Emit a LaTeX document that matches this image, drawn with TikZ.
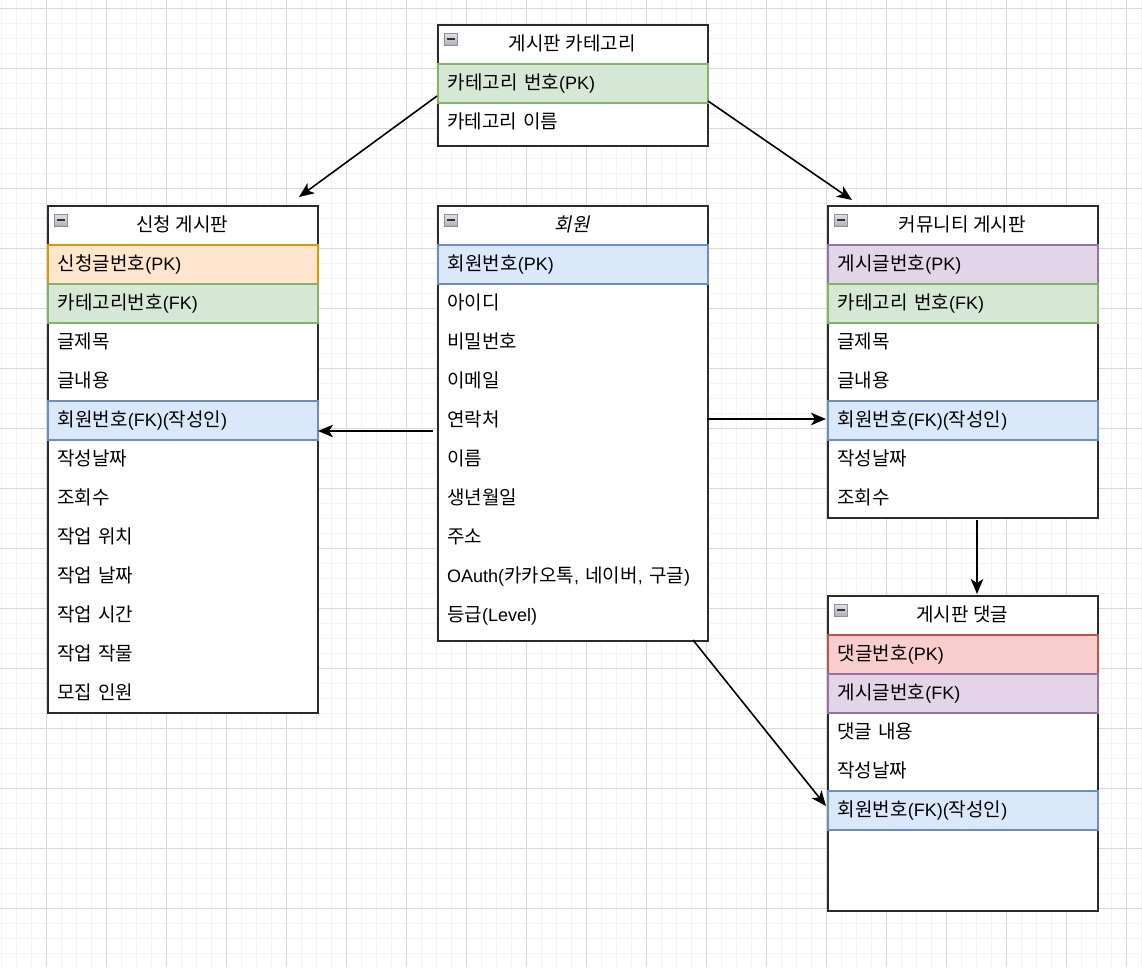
\documentclass[tikz,border=0pt]{standalone}
\usepackage{fontspec}
\setmainfont{Noto Sans CJK KR}
\newfontfamily\latf{Liberation Sans}
\newfontfamily\krit[FakeSlant=0.2]{Noto Sans CJK KR}
\newcommand\lat[1]{{\latf\fontsize{18}{21}\selectfont #1}}
\usetikzlibrary{arrows.meta}
\definecolor{grnf}{HTML}{D5E8D4}\definecolor{grnd}{HTML}{82B366}
\definecolor{orgf}{HTML}{FFE6CC}\definecolor{orgd}{HTML}{D79B00}
\definecolor{bluf}{HTML}{DAE8FC}\definecolor{blud}{HTML}{6C8EBF}
\definecolor{purf}{HTML}{E1D5E7}\definecolor{purd}{HTML}{9673A6}
\definecolor{redf}{HTML}{F8CECC}\definecolor{redd}{HTML}{B85450}
\definecolor{boxc}{HTML}{2B2B2B}
\definecolor{gmaj}{HTML}{D9D9D9}\definecolor{gmin}{HTML}{F3F3F3}
\definecolor{icf}{HTML}{C4C6CC}\definecolor{icd}{HTML}{8A8F9C}
\tikzset{
  tbox/.style={draw=boxc, line width=1.8pt, fill=white, anchor=north west, minimum width=270pt, inner sep=0pt},
  hdr/.style={anchor=north west, minimum width=270pt, minimum height=39pt, inner sep=0pt, text height=16pt, text depth=3pt},
  row/.style={anchor=north west, minimum width=270pt, minimum height=39pt, inner xsep=10pt, inner ysep=0pt, text width=250pt, align=left, text height=16pt, text depth=3pt},
  grn/.style={row, fill=grnf, draw=grnd, line width=1.8pt},
  org/.style={row, fill=orgf, draw=orgd, line width=1.8pt},
  blu/.style={row, fill=bluf, draw=blud, line width=1.8pt},
  pur/.style={row, fill=purf, draw=purd, line width=1.8pt},
  rdd/.style={row, fill=redf, draw=redd, line width=1.8pt},
  arr/.style={draw=black, line width=1.6pt, -{Stealth[length=15pt,width=12.5pt,inset=4pt]}},
  gminor/.style={draw=gmin, line width=1pt},
  gmajor/.style={draw=gmaj, line width=1pt}
}
\newcommand\tblicon[2]{%
  \shade[top color=icf!50, bottom color=icf!90!black, draw=icd, line width=1pt] (#1+7,#2+9) rectangle (#1+20,#2+21);
  \draw[black!80, line width=1.6pt] (#1+9.5,#2+15) -- (#1+17.5,#2+15);}
\begin{document}
\begin{tikzpicture}[x=1pt,y=-1pt, font=\fontsize{19}{22}\selectfont]
\useasboundingbox (0,0) rectangle (1142,967);
\fill[white] (0,0) rectangle (1142,967);
% grid
\foreach \k in {0,...,76} \draw[gminor] ({1+15*\k},0) -- ({1+15*\k},967);
\foreach \k in {0,...,63} \draw[gminor] (0,{8+15*\k}) -- (1142,{8+15*\k});
\foreach \k in {0,...,18} \draw[gmajor] ({46+60*\k},0) -- ({46+60*\k},967);
\foreach \k in {0,...,15} \draw[gmajor] (0,{8+60*\k}) -- (1142,{8+60*\k});

% ---- 게시판 카테고리
\node[tbox, minimum height=121pt] (cat) at (437,24) {};
\node[hdr] (catH) at (437,24) {게시판 카테고리};
\tblicon{437}{24}
\node[grn] (cat1) at (437,63) {카테고리 번호\lat{(PK)}};
\node[row] (cat2) at (437,102) {카테고리 이름};

% ---- 신청 게시판
\node[tbox, minimum height=507pt] (app) at (47,205) {};
\node[hdr] (appH) at (47,205) {신청 게시판};
\tblicon{47}{205}
\node[org] (app1) at (47,244) {신청글번호\lat{(PK)}};
\node[grn] (app2) at (47,283) {카테고리번호\lat{(FK)}};
\node[row] (app3) at (47,322) {글제목};
\node[row] (app4) at (47,361) {글내용};
\node[blu] (app5) at (47,400) {회원번호\lat{(FK)(}작성인\lat{)}};
\node[row] (app6) at (47,439) {작성날짜};
\node[row] (app7) at (47,478) {조회수};
\node[row] (app8) at (47,517) {작업 위치};
\node[row] (app9) at (47,556) {작업 날짜};
\node[row] (app10) at (47,595) {작업 시간};
\node[row] (app11) at (47,634) {작업 작물};
\node[row] (app12) at (47,673) {모집 인원};

% ---- 회원
\node[tbox, minimum height=435pt] (mem) at (437,205) {};
\node[hdr] (memH) at (437,205) {\krit 회원};
\tblicon{437}{205}
\node[blu] (mem1) at (437,244) {회원번호\lat{(PK)}};
\node[row] (mem2) at (437,283) {아이디};
\node[row] (mem3) at (437,322) {비밀번호};
\node[row] (mem4) at (437,361) {이메일};
\node[row] (mem5) at (437,400) {연락처};
\node[row] (mem6) at (437,439) {이름};
\node[row] (mem7) at (437,478) {생년월일};
\node[row] (mem8) at (437,517) {주소};
\node[row] (mem9) at (437,556) {\lat{OAuth(}카카오톡\lat{, }네이버\lat{, }구글\lat{)}};
\node[row] (mem10) at (437,595) {등급\lat{(Level)}};

% ---- 커뮤니티 게시판
\node[tbox, minimum height=312pt] (com) at (827,205) {};
\node[hdr] (comH) at (827,205) {커뮤니티 게시판};
\tblicon{827}{205}
\node[pur] (com1) at (827,244) {게시글번호\lat{(PK)}};
\node[grn] (com2) at (827,283) {카테고리 번호\lat{(FK)}};
\node[row] (com3) at (827,322) {글제목};
\node[row] (com4) at (827,361) {글내용};
\node[blu] (com5) at (827,400) {회원번호\lat{(FK)(}작성인\lat{)}};
\node[row] (com6) at (827,439) {작성날짜};
\node[row] (com7) at (827,478) {조회수};

% ---- 게시판 댓글
\node[tbox, minimum height=315pt] (cmt) at (827,595) {};
\node[hdr] (cmtH) at (827,595) {게시판 댓글};
\tblicon{827}{595}
\node[rdd] (cmt1) at (827,634) {댓글번호\lat{(PK)}};
\node[pur] (cmt2) at (827,673) {게시글번호\lat{(FK)}};
\node[row] (cmt3) at (827,712) {댓글 내용};
\node[row] (cmt4) at (827,751) {작성날짜};
\node[blu] (cmt5) at (827,790) {회원번호\lat{(FK)(}작성인\lat{)}};

% ---- connectors
\coordinate (a1s) at (437,96);  \coordinate (a1e) at (299,197);
\coordinate (a2s) at (708,101); \coordinate (a2e) at (852,200);
\coordinate (a3s) at (433,431); \coordinate (a3e) at (318,431);
\coordinate (a4s) at (707,419); \coordinate (a4e) at (826,419);
\coordinate (a5s) at (977,520); \coordinate (a5e) at (977,594);
\coordinate (a6s) at (693,640); \coordinate (a6e) at (826,806);
\draw[arr] (a1s) -- (a1e);
\draw[arr] (a2s) -- (a2e);
\draw[arr] (a3s) -- (a3e);
\draw[arr] (a4s) -- (a4e);
\draw[arr] (a5s) -- (a5e);
\draw[arr] (a6s) -- (a6e);
\end{tikzpicture}
\end{document}
